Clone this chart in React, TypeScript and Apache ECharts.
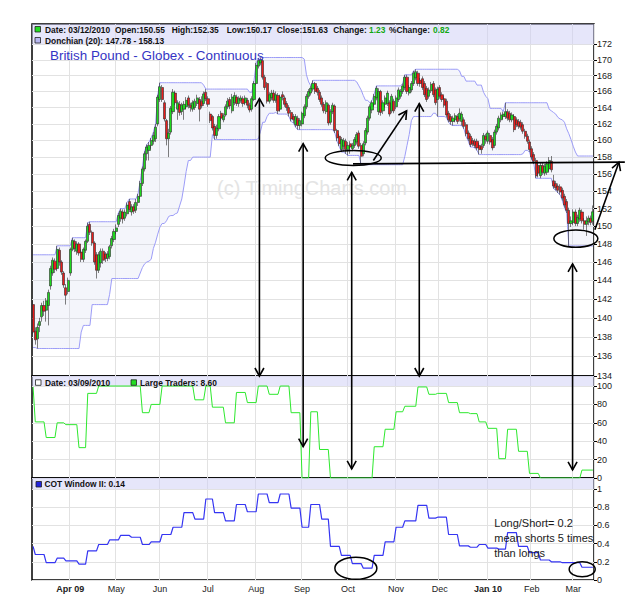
import React, { useEffect, useRef } from "react";
import * as echarts from "echarts";

// ---------- data ----------
const N = 257; // trading days 09 Mar 2009 .. 12 Mar 2010

// [category index of first trading day, label, bold]
const monthTicks: [number, string, boolean][] = [
  [17, "Apr 09", true], [38, "May", false], [58, "Jun", false], [80, "Jul", false],
  [102, "Aug", false], [123, "Sep", false], [144, "Oct", false], [166, "Nov", false],
  [186, "Dec", false], [208, "Jan 10", true], [228, "Feb", false], [247, "Mar", false],
];

const priceTicks = [134, 136, 138, 140, 142, 144, 146, 148, 150, 152, 154, 156, 158, 160, 162, 164, 166, 168, 170, 172];
const largeTraderTicks = [0, 20, 40, 60, 80, 100];
const cotTicks = [0, 0.2, 0.4, 0.6, 0.8, 1];

// daily candles [open, high, low, close]
const mar09 = [
  [141.4, 141.8, 138.3, 138.5], [138.6, 139.0, 137.2, 137.7], [137.8, 139.4, 136.8, 139.0], [139.2, 140.0, 138.5, 139.6],
  [140.1, 141.6, 139.6, 141.3], [141.3, 141.8, 140.2, 140.7], [140.8, 142.1, 139.6, 141.8], [141.3, 143.0, 139.2, 142.7],
  [143.4, 145.6, 143.0, 145.3], [144.8, 146.5, 144.5, 146.2], [146.1, 146.4, 144.8, 145.2], [145.3, 147.8, 145.0, 147.4],
  [147.3, 147.6, 145.6, 146.0], [146.0, 146.2, 144.6, 144.9], [144.8, 145.0, 143.2, 143.5], [143.2, 143.6, 141.4, 142.4],
  [142.8, 144.3, 142.5, 144.0],
];
const apr09 = [
  [144.8, 147.6, 144.5, 147.4], [147.4, 148.7, 147.2, 148.4], [148.3, 148.5, 147.1, 147.5], [147.2, 148.3, 146.8, 148.0],
  [148.0, 148.2, 146.7, 147.0], [147.1, 147.4, 146.0, 146.3], [146.3, 147.6, 146.0, 147.4], [147.3, 148.5, 147.0, 148.3],
  [148.3, 150.4, 148.1, 150.0], [150.2, 150.5, 149.0, 149.3], [149.3, 149.5, 147.8, 148.1], [148.1, 148.3, 145.7, 146.0],
  [146.8, 147.1, 144.2, 145.1], [145.1, 147.1, 144.8, 146.8], [145.9, 147.5, 145.4, 147.2], [147.2, 147.5, 145.8, 146.2],
  [146.9, 147.1, 146.0, 146.4], [146.4, 147.2, 146.1, 146.9], [146.6, 147.9, 146.3, 147.7], [147.8, 148.9, 147.5, 148.6],
  [148.5, 149.7, 148.2, 149.4],
];
const may09 = [
  [149.4, 150.2, 149.1, 149.8], [150.2, 151.5, 149.9, 151.2], [150.9, 152.0, 150.5, 151.7], [151.6, 151.9, 150.3, 150.8],
  [150.9, 151.9, 150.6, 151.6], [151.4, 152.7, 151.1, 152.4], [152.8, 153.1, 151.6, 151.9], [151.6, 152.5, 151.2, 152.2],
  [152.2, 152.5, 151.4, 151.7], [151.8, 153.1, 151.5, 152.7], [152.7, 153.7, 152.3, 153.4], [153.4, 155.2, 153.1, 154.9],
  [154.9, 156.9, 154.6, 156.6], [156.6, 158.7, 156.3, 158.4], [158.4, 159.5, 157.6, 159.2], [158.8, 159.8, 157.6, 159.4],
  [159.4, 160.3, 159.0, 160.0], [159.9, 161.0, 159.5, 160.6], [160.2, 162.0, 159.8, 161.6], [162.0, 165.6, 161.7, 165.3],
];
const jun09 = [
  [165.0, 167.1, 164.7, 166.6], [166.5, 166.8, 164.7, 165.0], [164.6, 164.9, 162.3, 162.6], [162.4, 162.6, 159.4, 160.2],
  [160.2, 161.4, 158.0, 160.9], [161.0, 164.2, 160.7, 163.9], [163.5, 166.3, 163.2, 165.9], [165.8, 166.1, 164.3, 164.6],
  [163.8, 164.9, 162.5, 164.6], [164.4, 164.8, 163.0, 163.4], [163.5, 164.6, 163.1, 164.3], [163.8, 164.8, 162.5, 164.4],
  [164.1, 165.3, 163.8, 164.9], [165.2, 165.5, 163.9, 164.3], [164.3, 164.6, 163.5, 164.0], [163.8, 164.9, 163.5, 164.6],
  [164.0, 165.1, 163.7, 164.8], [164.5, 165.6, 164.2, 165.2], [165.0, 165.3, 162.3, 163.8], [164.8, 165.4, 163.9, 164.2],
  [164.5, 166.0, 164.2, 165.7], [165.9, 166.3, 164.8, 165.1],
];
const jul09 = [
  [165.1, 165.4, 164.1, 164.4], [163.2, 163.5, 162.1, 162.4], [162.9, 163.1, 161.2, 161.5], [161.7, 162.0, 160.1, 160.6],
  [160.6, 161.9, 160.2, 161.5], [161.4, 163.2, 161.1, 162.9], [163.3, 163.6, 162.4, 162.7], [162.5, 163.3, 162.2, 163.0],
  [163.1, 164.4, 162.9, 164.1], [164.1, 165.2, 163.8, 164.8], [165.0, 165.3, 163.8, 164.2], [163.6, 165.7, 163.3, 165.3],
  [164.6, 165.9, 164.3, 165.5], [165.3, 165.6, 164.2, 164.5], [164.5, 165.4, 164.1, 165.1], [164.9, 165.5, 164.6, 165.2],
  [165.1, 165.4, 164.1, 164.5], [164.6, 165.5, 164.3, 165.2], [164.9, 165.2, 163.9, 164.3], [164.3, 164.6, 163.4, 163.7],
  [163.8, 165.4, 163.5, 165.1], [165.0, 167.3, 164.8, 167.0],
];
const aug09 = [
  [167.0, 169.6, 166.8, 169.3], [169.2, 170.2, 168.9, 169.9], [169.6, 170.3, 169.3, 170.0], [169.9, 170.1, 167.5, 167.8],
  [167.8, 168.1, 166.2, 166.5], [167.0, 167.2, 164.5, 164.8], [164.8, 165.9, 164.5, 165.6], [165.2, 166.2, 164.9, 165.8],
  [165.8, 166.2, 164.6, 164.9], [164.9, 166.0, 164.6, 165.6], [165.5, 165.8, 163.2, 163.6], [163.8, 165.6, 163.5, 165.3],
  [165.6, 166.0, 164.9, 165.3], [165.2, 165.5, 164.1, 164.4], [164.5, 164.8, 163.6, 164.0], [164.0, 164.3, 162.9, 163.3],
  [163.4, 163.7, 162.3, 162.6], [162.9, 163.2, 162.1, 162.5], [161.9, 163.2, 161.6, 162.9], [162.7, 163.0, 161.3, 161.8],
  [161.8, 162.7, 161.3, 162.4],
];
const sep09 = [
  [162.0, 163.5, 161.7, 163.3], [163.0, 164.4, 162.7, 164.1], [164.1, 165.7, 163.8, 165.4], [165.4, 166.3, 165.1, 166.0],
  [165.8, 166.7, 165.5, 166.4], [166.3, 167.4, 166.0, 167.0], [167.0, 167.2, 165.7, 166.0], [166.4, 166.7, 165.5, 165.9],
  [165.9, 166.2, 164.7, 165.0], [165.2, 165.5, 164.1, 164.4], [164.4, 164.7, 163.3, 163.6], [163.5, 164.9, 163.2, 164.6],
  [164.3, 164.5, 161.8, 162.1], [162.2, 163.8, 161.9, 163.5], [163.5, 164.6, 163.2, 164.3], [164.2, 164.4, 160.9, 161.2],
  [161.2, 161.4, 159.9, 160.3], [160.5, 160.8, 159.3, 159.6], [158.9, 160.4, 158.6, 160.1], [159.3, 160.3, 158.7, 160.0],
  [159.9, 160.2, 158.4, 158.9],
];
const oct09 = [
  [158.9, 159.8, 158.2, 159.4], [159.6, 159.9, 158.4, 159.2], [159.0, 159.7, 158.7, 159.4], [159.4, 160.4, 159.1, 160.1],
  [159.8, 161.0, 159.5, 160.7], [160.9, 161.2, 159.0, 159.3], [159.4, 159.7, 157.1, 158.1], [158.4, 159.9, 158.1, 159.6],
  [159.7, 161.5, 159.4, 161.2], [161.0, 163.0, 160.7, 162.7], [162.7, 164.4, 162.4, 164.1], [163.7, 164.9, 163.3, 164.6],
  [164.4, 165.7, 164.1, 165.4], [165.2, 166.7, 164.9, 166.4], [163.5, 166.4, 163.1, 166.0], [166.0, 166.2, 163.0, 163.4],
  [163.6, 164.9, 163.2, 164.6], [164.4, 165.5, 164.0, 165.2], [164.5, 166.1, 164.2, 165.8], [164.6, 164.9, 162.9, 163.2],
  [163.6, 165.7, 163.3, 165.4], [164.8, 165.1, 163.3, 163.6],
];
const nov09 = [
  [164.1, 165.5, 163.8, 165.2], [165.0, 166.5, 164.7, 166.2], [165.4, 166.3, 165.1, 166.0], [166.0, 167.0, 165.7, 166.7],
  [166.5, 168.1, 166.2, 167.8], [167.8, 168.1, 165.7, 166.0], [165.8, 166.8, 165.5, 166.5], [166.2, 167.3, 165.9, 167.0],
  [167.0, 168.6, 166.7, 168.3], [167.7, 168.8, 167.4, 168.5], [168.3, 168.6, 166.7, 167.0], [167.4, 167.7, 166.6, 167.0],
  [167.6, 167.9, 166.2, 166.5], [167.0, 167.3, 165.3, 165.6], [166.4, 166.7, 164.7, 165.0], [165.4, 166.5, 165.1, 166.2],
  [166.1, 167.2, 165.8, 166.9], [167.0, 167.3, 165.3, 165.6], [166.2, 166.5, 164.3, 164.6], [165.0, 166.6, 162.9, 166.3],
];
const dec09 = [
  [166.5, 166.8, 165.1, 165.4], [165.6, 165.9, 164.7, 165.0], [165.1, 165.4, 164.0, 164.3], [164.8, 165.1, 162.8, 163.1],
  [163.3, 163.6, 162.2, 162.5], [162.9, 163.2, 161.9, 162.3], [162.3, 163.0, 161.8, 162.7], [162.5, 163.3, 162.2, 163.0],
  [162.9, 163.2, 162.0, 162.3], [162.6, 163.9, 162.3, 163.3], [162.3, 163.5, 161.8, 163.2], [162.5, 162.8, 161.4, 161.7],
  [161.9, 162.2, 160.5, 160.8], [160.9, 161.2, 159.9, 160.2], [160.5, 160.8, 159.2, 159.5], [160.0, 160.3, 159.3, 159.6],
  [159.9, 160.2, 159.1, 159.4], [159.9, 160.2, 158.8, 159.1], [159.4, 159.7, 158.3, 158.9], [159.3, 159.6, 158.4, 158.9],
  [159.4, 160.9, 159.1, 160.6], [160.5, 160.8, 159.6, 160.1],
];
const jan10 = [
  [159.9, 161.2, 159.6, 160.9], [160.6, 160.9, 159.5, 159.8], [160.1, 160.4, 158.8, 159.1], [159.4, 161.3, 159.1, 161.0],
  [161.0, 162.0, 160.7, 161.7], [161.5, 163.0, 161.2, 162.7], [162.5, 163.4, 162.2, 163.1], [162.9, 163.5, 162.6, 163.2],
  [162.9, 164.6, 162.6, 163.5], [163.5, 163.8, 162.4, 162.7], [163.3, 163.6, 162.2, 162.5], [162.5, 163.4, 162.2, 163.1],
  [162.9, 163.2, 161.0, 161.3], [162.5, 162.8, 161.6, 161.9], [162.3, 162.6, 161.4, 161.7], [162.2, 162.5, 161.3, 161.6],
  [161.9, 162.2, 160.8, 161.1], [161.1, 161.4, 160.2, 160.5], [160.5, 160.8, 159.6, 159.9], [159.8, 160.1, 158.6, 158.9],
];
const feb10 = [
  [159.0, 159.3, 157.7, 158.0], [158.3, 158.6, 157.2, 157.5], [157.6, 157.9, 155.5, 155.8], [157.0, 157.3, 155.6, 156.1],
  [155.8, 157.3, 155.5, 157.0], [157.0, 157.3, 155.9, 156.2], [156.1, 157.2, 155.8, 156.9], [156.2, 157.5, 155.9, 157.2],
  [156.6, 158.0, 156.3, 157.6], [157.5, 158.13, 156.2, 156.5], [155.2, 155.9, 154.3, 154.6], [154.9, 155.2, 154.1, 154.4],
  [154.6, 154.9, 153.8, 154.1], [154.5, 154.8, 153.6, 153.9], [154.1, 154.4, 152.9, 153.2], [153.4, 153.7, 152.1, 152.4],
  [152.8, 153.1, 151.5, 151.8], [151.8, 152.1, 147.78, 150.3], [150.3, 151.1, 149.9, 150.6],
];
const mar10 = [
  [150.4, 151.9, 150.1, 151.6], [151.6, 151.9, 150.0, 150.3], [150.3, 151.3, 150.0, 151.0], [150.8, 152.1, 150.5, 151.8],
  [151.6, 151.9, 150.3, 150.6], [150.6, 150.9, 149.6, 150.2], [150.2, 151.1, 148.9, 150.6], [150.5, 151.2, 150.1, 150.9],
  [150.9, 151.2, 150.1, 150.4], [150.55, 152.35, 150.17, 151.63],
];

// 20-day channel range carried in from before the first bar
const donchianBefore = { high: 146.8, low: 136.9 };
const DONCHIAN_N = 20;

// weekly COT readings held daily: [first day index, value]
const largeTraders: [number, number][] = [
  [0, 99], [1, 61], [6, 44], [11, 60], [15, 58], [21, 33], [25, 92], [30, 100], [50, 71], [54, 80], [59, 100],
  [74, 85], [79, 100], [82, 77], [88, 60], [93, 93], [98, 82], [103, 100], [108, 91], [113, 100], [118, 71],
  [123, 0], [127, 72], [131, 31], [136, 0], [156, 34], [161, 53], [166, 72], [170, 78], [176, 99], [181, 91],
  [185, 92], [190, 82], [195, 71], [200, 70], [204, 61], [208, 54], [213, 21], [217, 53], [222, 29], [227, 5],
  [232, 0], [251, 8.6],
];
const cotWindow: [number, number][] = [
  [0, 0.37], [1, 0.28], [6, 0.19], [11, 0.24], [15, 0.21], [21, 0.175], [25, 0.32], [30, 0.39], [35, 0.44],
  [40, 0.49], [45, 0.47], [50, 0.39], [54, 0.42], [59, 0.5], [64, 0.58], [69, 0.74], [74, 0.67], [79, 0.89],
  [83, 0.74], [88, 0.65], [93, 0.83], [98, 0.75], [103, 0.945], [108, 0.85], [113, 0.945], [118, 0.79],
  [123, 0.58], [127, 0.83], [132, 0.67], [136, 0.37], [141, 0.27], [146, 0.18], [151, 0.13], [156, 0.27],
  [161, 0.42], [166, 0.58], [170, 0.65], [176, 0.82], [181, 0.68], [185, 0.69], [190, 0.5], [195, 0.375],
  [200, 0.36], [204, 0.39], [208, 0.35], [213, 0.34], [217, 0.52], [222, 0.37], [227, 0.3], [232, 0.22],
  [237, 0.2], [242, 0.19], [251, 0.14],
];

const priceDate = "03/12/2010";
const cotDate = "03/09/2010";

// annotations anchored in data space: [gridIndex, day index, value]
type Anchor = [number, number, number];
const doubleArrows: [Anchor, Anchor][] = [
  [[0, 103.5, 165.1], [1, 103.5, 110.9]],
  [[0, 123.5, 159.6], [1, 123.5, 34]],
  [[0, 145.7, 156.2], [1, 145.7, 9.9]],
  [[0, 176.6, 164.5], [1, 176.6, 110.9]],
  [[0, 246.7, 145.8], [1, 246.7, 8.8]],
];
const singleArrows: [Anchor, Anchor][] = [
  [[0, 155.6, 157.6], [0, 170.8, 163.6]],
  [[0, 256.9, 149.6], [0, 267.9, 157.4]],
];
const supportLine: [Anchor, Anchor] = [[0, 146.3, 157.2], [0, 270.6, 157.4]];
const ellipses: [Anchor, number, number][] = [
  [[0, 146.4, 157.9], 28, 7.5],
  [[0, 248.2, 148.6], 22, 8.7],
  [[2, 147.6, 0.129], 21, 11],
  [[2, 251.1, 0.118], 13, 7.5],
];
const noteAnchor: Anchor = [2, 210.9, 0.705];
const noteText = "Long/Short= 0.2\nmean shorts 5 times\nthan longs";

// ---------- layout / style ----------
const FONT = '"Liberation Sans", Arial, Helvetica, sans-serif';
const GRID_LINE = "#e2e2e2";
const PLOT_LEFT = 32;
const PLOT_WIDTH = 562;
const PRICE_MIN = 134;
const PRICE_MAX = 174.65;
const LT_MAX = 110.9;
const COT_MAX = 1.121;

export default function App() {
  const ref = useRef<HTMLDivElement>(null);

  useEffect(() => {
    const el = ref.current;
    if (!el) return;
    const chart = echarts.init(el, undefined, { renderer: "svg" });

    const candles = [...mar09, ...apr09, ...may09, ...jun09, ...jul09, ...aug09, ...sep09, ...oct09, ...nov09, ...dec09, ...jan10, ...feb10, ...mar10];
    const highs = candles.map((c) => c[1]);
    const lows = candles.map((c) => c[2]);

    const upper: number[] = [];
    const lower: number[] = [];
    for (let i = 0; i < candles.length; i++) {
      let hi = i < DONCHIAN_N - 1 ? donchianBefore.high : -Infinity;
      let lo = i < DONCHIAN_N - 1 ? donchianBefore.low : Infinity;
      for (let j = Math.max(0, i - DONCHIAN_N + 1); j <= i; j++) {
        hi = Math.max(hi, highs[j]);
        lo = Math.min(lo, lows[j]);
      }
      upper.push(hi);
      lower.push(lo);
    }
    const bandWidth = upper.map((u, i) => +(u - lower[i]).toFixed(4));

    const stepLine = (steps: [number, number][]) => {
      const out: number[][] = [];
      steps.forEach(([s, v], k) => {
        const e = k + 1 < steps.length ? steps[k + 1][0] - 1 : candles.length - 1;
        out.push([s, v]);
        if (e > s) out.push([e, v]);
      });
      return out;
    };

    const cats = candles.map((_, i) => String(i));
    const monthSet = new Set(monthTicks.map((m) => m[0]));
    const monthInterval = (i: number) => monthSet.has(i);

    const xAxis = (gridIndex: number, labels: boolean) => ({
      type: "category",
      gridIndex,
      data: cats,
      boundaryGap: true,
      axisLine: { show: false },
      axisTick: { show: false },
      axisLabel: labels
        ? {
            show: true,
            interval: monthInterval,
            margin: 4,
            fontSize: 9,
            color: "#222",
            fontFamily: FONT,
            formatter: (_v: string, idx: number) => {
              const m = monthTicks.find((t) => t[0] === idx);
              if (!m) return "";
              return m[2] ? `{b|${m[1]}}` : m[1];
            },
            rich: { b: { fontWeight: "bold", fontSize: 9, color: "#222", fontFamily: FONT } },
          }
        : { show: false },
      splitLine: { show: true, interval: monthInterval, lineStyle: { color: GRID_LINE, width: 1 } },
    });

    const yAxis = (gridIndex: number, type: string, min: number, max: number, ticks: number[]) => ({
      type,
      gridIndex,
      position: "right",
      min,
      max,
      axisLine: { show: false },
      axisTick: { show: true, length: 3, customValues: ticks, lineStyle: { color: "#000" } },
      axisLabel: { show: true, customValues: ticks, fontSize: 9, color: "#222", margin: 3, fontFamily: FONT },
      splitLine: { show: true, lineStyle: { color: GRID_LINE, width: 1 } },
    });

    const headerBand = (from: number, to: number) => ({
      silent: true,
      itemStyle: { color: "rgba(205,205,245,0.5)" },
      data: [[{ yAxis: from }, { yAxis: to }]],
    });

    const gridBase = { left: PLOT_LEFT, width: PLOT_WIDTH, show: true, borderColor: "#000", borderWidth: 1.5, backgroundColor: "transparent" };

    chart.setOption({
      animation: false,
      textStyle: { fontFamily: FONT },
      grid: [
        { ...gridBase, top: 24, height: 352 },
        { ...gridBase, top: 376, height: 102 },
        { ...gridBase, top: 478, height: 102 },
      ],
      xAxis: [xAxis(0, false), xAxis(1, false), xAxis(2, true)],
      yAxis: [
        yAxis(0, "log", PRICE_MIN, PRICE_MAX, priceTicks),
        yAxis(1, "value", 0, LT_MAX, largeTraderTicks),
        yAxis(2, "value", 0, COT_MAX, cotTicks),
      ],
      series: [
        {
          name: "Donchian low",
          type: "line",
          xAxisIndex: 0,
          yAxisIndex: 0,
          data: lower,
          stack: "donchian",
          showSymbol: false,
          symbol: "none",
          silent: true,
          z: 1,
          lineStyle: { color: "#9c9cf7", width: 1 },
        },
        {
          name: "Donchian high",
          type: "line",
          xAxisIndex: 0,
          yAxisIndex: 0,
          data: bandWidth,
          stack: "donchian",
          showSymbol: false,
          symbol: "none",
          silent: true,
          z: 1,
          lineStyle: { color: "#9c9cf7", width: 1 },
          areaStyle: { color: "rgba(190,200,230,0.25)" },
        },
        {
          name: "Price",
          type: "candlestick",
          xAxisIndex: 0,
          yAxisIndex: 0,
          data: candles.map(([o, h, l, c]) => [o, c, l, h]),
          barWidth: 2.6,
          z: 3,
          itemStyle: { color: "#1ed81e", color0: "#ea1c1c", borderColor: "#2a2a2a", borderColor0: "#2a2a2a", borderWidth: 0.6 },
          markArea: headerBand(172, PRICE_MAX),
        },
        {
          name: "Large Traders",
          type: "line",
          xAxisIndex: 1,
          yAxisIndex: 1,
          data: stepLine(largeTraders),
          showSymbol: false,
          symbol: "none",
          lineStyle: { color: "#2ee82e", width: 1 },
          markArea: headerBand(100, LT_MAX),
        },
        {
          name: "COT Window II",
          type: "line",
          xAxisIndex: 2,
          yAxisIndex: 2,
          data: stepLine(cotWindow),
          showSymbol: false,
          symbol: "none",
          lineStyle: { color: "#3535f2", width: 1.2 },
          markArea: headerBand(1, COT_MAX),
        },
      ],
    });

    // ---------- graphics ----------
    const P = (a: Anchor) => {
      const [g, xi, v] = a;
      const p0 = chart.convertToPixel({ gridIndex: g } as any, [0, v]) as number[];
      const p1 = chart.convertToPixel({ gridIndex: g } as any, [N - 1, v]) as number[];
      return [p0[0] + ((p1[0] - p0[0]) * xi) / (N - 1), p0[1]];
    };
    const INK = { stroke: "#000", lineWidth: 1.6, fill: "none" };
    const head = (tip: number[], from: number[]) => {
      const dx = tip[0] - from[0];
      const dy = tip[1] - from[1];
      const len = Math.hypot(dx, dy) || 1;
      const ux = dx / len;
      const uy = dy / len;
      const L = 8;
      const W = 4.5;
      const bx = tip[0] - ux * L;
      const by = tip[1] - uy * L;
      return {
        type: "polyline",
        z: 100,
        silent: true,
        shape: { points: [[bx - uy * W, by + ux * W], tip, [bx + uy * W, by - ux * W]] },
        style: { ...INK },
      };
    };
    const seg = (a: number[], b: number[]) => ({
      type: "line",
      z: 100,
      silent: true,
      shape: { x1: a[0], y1: a[1], x2: b[0], y2: b[1] },
      style: { ...INK },
    });

    const g: any[] = [];
    doubleArrows.forEach(([f, t]) => {
      const a = P(f);
      const b = P(t);
      g.push(seg(a, b), head(a, b), head(b, a));
    });
    singleArrows.forEach(([f, t]) => {
      const a = P(f);
      const b = P(t);
      g.push(seg(a, b), head(b, a));
    });
    g.push(seg(P(supportLine[0]), P(supportLine[1])));
    ellipses.forEach(([c, rx, ry]) => {
      const p = P(c);
      g.push({ type: "ellipse", z: 100, silent: true, shape: { cx: p[0], cy: p[1], rx, ry }, style: { stroke: "#000", lineWidth: 1.5, fill: "none" } });
    });
    const np = P(noteAnchor);
    g.push({
      type: "text",
      z: 100,
      x: np[0],
      y: np[1],
      style: { text: noteText, font: `11px ${FONT}`, fill: "#1a1a1a", lineHeight: 15, align: "left", verticalAlign: "top" },
    });

    // title + watermark
    g.push({
      type: "text",
      z: 1,
      x: 217,
      y: 188,
      style: { text: "(c) TimingCharts.com", font: `20px ${FONT}`, fill: "#e4e4e4", align: "left", verticalAlign: "middle" },
    });
    g.push({
      type: "text",
      z: 50,
      x: 50,
      y: 55,
      style: { text: "British Pound - Globex - Continuous", font: `13.4px ${FONT}`, fill: "#3434c4", align: "left", verticalAlign: "middle" },
    });

    // headers
    const hdr = (text: string, x: number, y: number, fill = "#111") => ({
      type: "text",
      z: 50,
      x,
      y,
      style: { text, font: `bold 8.4px ${FONT}`, fill, align: "left", verticalAlign: "middle" },
    });
    const icon = (x: number, y: number, fill: string) => ({
      type: "rect",
      z: 50,
      shape: { x, y, width: 5.5, height: 5.5 },
      style: { fill, stroke: "#222", lineWidth: 0.8 },
    });
    const last = candles[candles.length - 1];
    const prev = candles[candles.length - 2];
    const chg = last[3] - prev[3];
    const pct = (chg / prev[3]) * 100;
    const f2 = (v: number) => v.toFixed(2);
    const GREEN_TXT = "#12a812";
    g.push(
      icon(35, 26.5, "#22dd22"),
      hdr(`Date: ${priceDate}`, 45, 29.5),
      hdr(`Open:${f2(last[0])}`, 115, 29.5),
      hdr(`High:${f2(last[1])}`, 171.7, 29.5),
      hdr(`Low:${f2(last[2])}`, 226.7, 29.5),
      hdr(`Close:${f2(last[3])}`, 276.7, 29.5),
      hdr("Change:", 333.3, 29.5),
      hdr(f2(chg), 369, 29.5, GREEN_TXT),
      hdr("%Change:", 389, 29.5),
      hdr(f2(pct), 433, 29.5, GREEN_TXT),
      icon(35, 37.5, "#b8b8f2"),
      hdr(`Donchian (20): ${f2(lower[lower.length - 1])} - ${f2(upper[upper.length - 1])}`, 45, 40.5),
      icon(35.5, 379.8, "#ffffff"),
      hdr(`Date: ${cotDate}`, 45, 382.5),
      icon(131, 379.8, "#22dd22"),
      hdr(`Large Traders: ${f2(largeTraders[largeTraders.length - 1][1])}`, 140, 382.5),
      icon(36, 481.5, "#2222dd"),
      hdr(`COT Window II: ${f2(cotWindow[cotWindow.length - 1][1])}`, 44.5, 484.3)
    );

    chart.setOption({ graphic: g });

    return () => chart.dispose();
  }, []);

  return <div ref={ref} style={{ position: "fixed", left: 0, top: 0, width: 625, height: 608, background: "#fff" }} />;
}
